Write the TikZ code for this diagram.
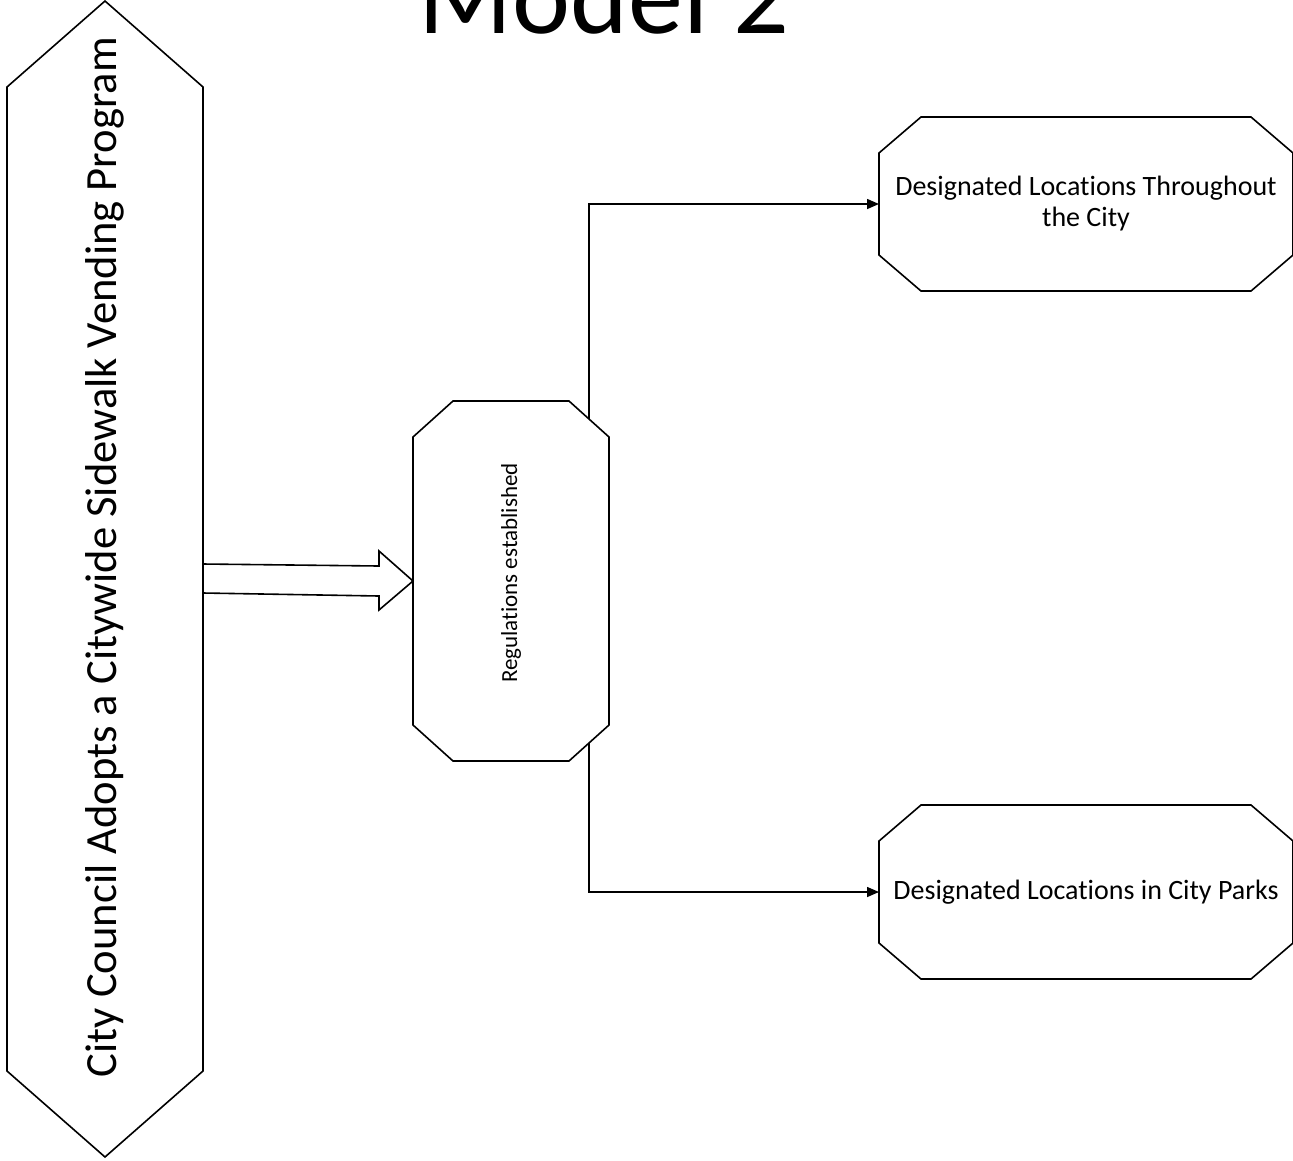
\documentclass[tikz,border=0pt]{standalone}
\usepackage{fontspec}
\setmainfont{Carlito}[Ligatures=NoCommon]
\usetikzlibrary{calc,arrows.meta}

% cut-corner outline round a node: name, corner width, corner height
\newcommand\cutedge[3]{%
  \draw[edge line] ([xshift=#2]#1.north west) -- ([xshift=-#2]#1.north east)
    -- ([yshift=-#3]#1.north east) -- ([yshift=#3]#1.south east)
    -- ([xshift=-#2]#1.south east) -- ([xshift=#2]#1.south west)
    -- ([yshift=#3]#1.south west) -- ([yshift=-#3]#1.north west) -- cycle;}

\begin{document}
\begin{tikzpicture}%
  [x=1pt,y=-1pt]
  \tikzstyle{box node}=[rectangle,inner sep=0,outer sep=0,align=center]
  \tikzstyle{edge line}=[line width=1.6pt,line join=miter]
  \tikzstyle{flow}=[line width=1.5pt,-{Triangle[length=12pt,width=10pt]}]
  \clip (0,0) rectangle (1293,1160);
  \node(title)[anchor=base] at (604,33) {\fontsize{110}{110}\selectfont Model 2};
  \node(city)[box node,minimum width=196,minimum height=1156] at (105,579)
    {\rotatebox{90}{\fontsize{44.6}{50}\selectfont\hspace*{44pt}City Council Adopts a Citywide Sidewalk Vending Program}};
  \node(reg)[box node,minimum width=196,minimum height=360] at (511,581)
    {\rotatebox{90}{\fontsize{23}{27}\selectfont\hspace*{16pt}Regulations established}};
  \node(city loc)[box node,minimum width=414,minimum height=174,
    font=\fontsize{28}{31}\selectfont] at (1086,204)
    {Designated Locations Throughout\\the City};
  \node(park loc)[box node,minimum width=414,minimum height=174,
    font=\fontsize{28}{31}\selectfont] at (1086,892)
    {Designated Locations in City Parks};
  \cutedge{city}{98pt}{86pt}
  \cutedge{reg}{40pt}{36pt}
  \cutedge{city loc}{42pt}{36pt}
  \cutedge{park loc}{42pt}{36pt}
  % wide arrow into the regulations
  \draw[edge line] (city.east |- 0,564) -- (379,566) -- (379,551) -- (reg.west)
    -- (379,610) -- (379,596) -- (city.east |- 0,593);
  \coordinate(up) at ($(reg.north east)+(-20,18)$);
  \coordinate(down) at ($(reg.south east)+(-20,-18)$);
  \draw[flow] (up) |- (city loc.west);
  \draw[flow] (down) |- (park loc.west);
\end{tikzpicture}
\end{document}
